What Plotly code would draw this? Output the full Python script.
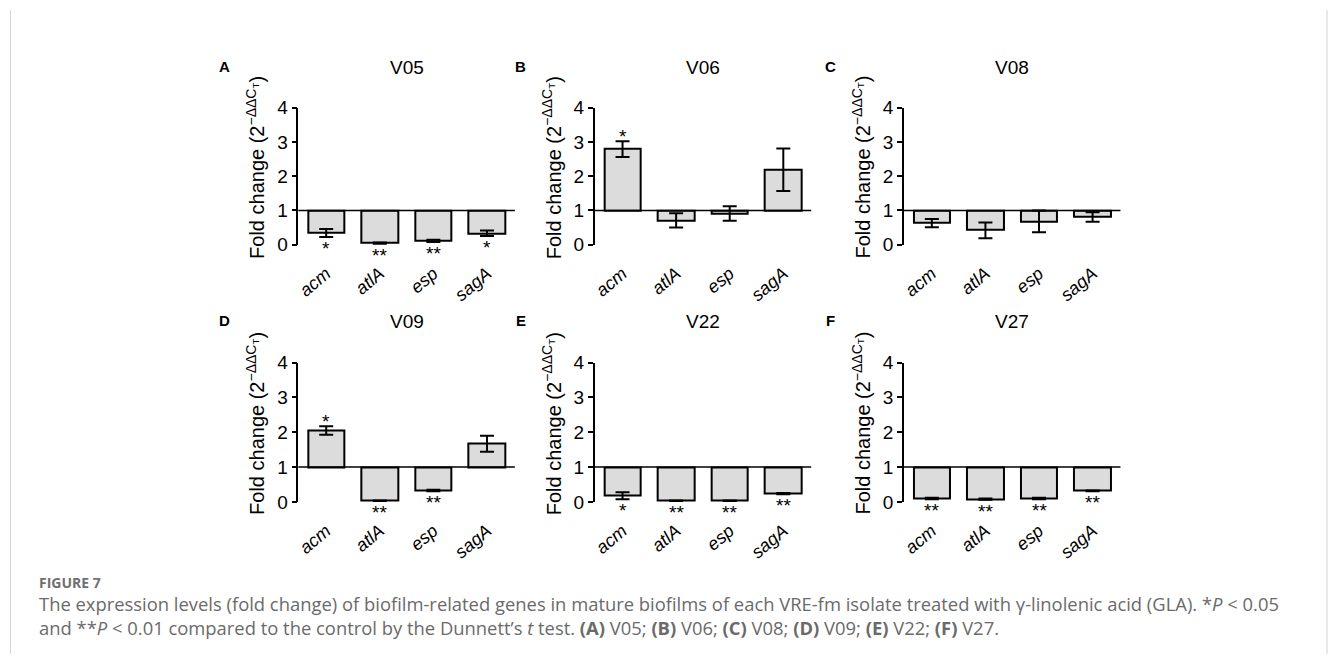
import plotly.graph_objects as go

W, H = 1330, 665

genes = ["acm", "atlA", "esp", "sagA"]
isolates = ["V05", "V06", "V08", "V09", "V22", "V27"]
panel_letters = ["A", "B", "C", "D", "E", "F"]

fold_V05 = [0.34, 0.04, 0.11, 0.33]
err_V05 = [0.12, 0.02, 0.03, 0.08]
sig_V05 = ["*", "**", "**", "*"]

fold_V06 = [2.79, 0.71, 0.91, 2.19]
err_V06 = [0.23, 0.21, 0.21, 0.62]
sig_V06 = ["*", "", "", ""]

fold_V08 = [0.63, 0.42, 0.68, 0.81]
err_V08 = [0.12, 0.23, 0.32, 0.14]
sig_V08 = ["", "", "", ""]

fold_V09 = [2.05, 0.03, 0.33, 1.67]
err_V09 = [0.12, 0.01, 0.02, 0.23]
sig_V09 = ["*", "**", "**", ""]

fold_V22 = [0.18, 0.03, 0.03, 0.24]
err_V22 = [0.10, 0.01, 0.01, 0.02]
sig_V22 = ["*", "**", "**", "**"]

fold_V27 = [0.10, 0.08, 0.10, 0.32]
err_V27 = [0.02, 0.02, 0.02, 0.01]
sig_V27 = ["**", "**", "**", "**"]

folds = [fold_V05, fold_V06, fold_V08, fold_V09, fold_V22, fold_V27]
errs = [err_V05, err_V06, err_V08, err_V09, err_V22, err_V27]
sigs = [sig_V05, sig_V06, sig_V08, sig_V09, sig_V22, sig_V27]

y_ticks = [0, 1, 2, 3, 4]
baseline = 1

caption_head = "FIGURE 7"
caption_l1 = ("The expression levels (fold change) of biofilm-related genes in mature biofilms of each "
              "VRE-fm isolate treated with γ-linolenic acid (GLA). *<i>P</i> &lt; 0.05")
caption_l2 = ("and **<i>P</i> &lt; 0.01 compared to the control by the Dunnett’s <i>t</i> test. "
              "<b>(A)</b> V05; <b>(B)</b> V06; <b>(C)</b> V08; <b>(D)</b> V09; <b>(E)</b> V22; <b>(F)</b> V27.")

# ---- layout geometry (page pixels) ----
col_left = [296, 593, 903]
col_w = 217
row_y0 = [242.3, 508]   # pixel of value 0
row_y4 = [101, 364]     # pixel of value 4


def px(x):
    return x / W


def py(y):
    return 1 - y / H


fig = go.Figure()
annotations = []
shapes = []
FONT = "Liberation Sans, Arial, sans-serif"

for i in range(6):
    r, c = divmod(i, 3)
    n = "" if i == 0 else str(i + 1)
    xa, ya = "x" + n, "y" + n
    vals = folds[i]
    er = errs[i]
    fig.add_trace(go.Bar(
        x=list(range(len(genes))), y=[v - baseline for v in vals], base=baseline,
        width=0.68, xaxis=xa, yaxis=ya,
        marker=dict(color="#dcdcdc", line=dict(color="black", width=2)),
        error_y=dict(type="data", array=er, color="black", thickness=2, width=7),
        showlegend=False, hoverinfo="skip",
    ))
    dom_x = [px(col_left[c]), px(col_left[c] + col_w)]
    dom_y = [py(row_y0[r]), py(row_y4[r])]
    fig.layout["xaxis" + n] = dict(
        domain=dom_x, anchor=ya, range=[-0.52, 3.52],
        tickvals=list(range(len(genes))), ticktext=genes, tickangle=-40,
        tickfont=dict(family=FONT, size=18, color="black", style="italic"),
        showline=False, showgrid=False, zeroline=False, ticks="",
        ticklabelstandoff=14,
    )
    fig.layout["yaxis" + n] = dict(
        domain=dom_y, anchor=xa, range=[0, 4], tickvals=y_ticks,
        showline=True, linecolor="black", linewidth=1.5,
        ticks="outside", ticklen=5, tickwidth=1.5, tickcolor="black",
        tickfont=dict(family=FONT, size=19, color="black"),
        showgrid=False, zeroline=False,
    )
    shapes.append(dict(type="line", xref=xa + " domain", yref=ya, x0=0, x1=1,
                       y0=baseline, y1=baseline, line=dict(color="black", width=1.5)))
    for j, s in enumerate(sigs[i]):
        if not s:
            continue
        if vals[j] >= baseline:
            annotations.append(dict(x=j, y=vals[j] + er[j], xref=xa, yref=ya, text=s,
                                    showarrow=False, yanchor="bottom", yshift=-8,
                                    font=dict(family=FONT, size=19, color="black")))
        else:
            annotations.append(dict(x=j, y=vals[j] - er[j], xref=xa, yref=ya, text=s,
                                    showarrow=False, yanchor="top", yshift=1,
                                    font=dict(family=FONT, size=19, color="black")))
    annotations.append(dict(x=px(col_left[c] + col_w / 2), y=py(row_y4[r] - 42), xref="paper", yref="paper",
                            text=isolates[i], showarrow=False, xanchor="center", yanchor="middle",
                            font=dict(family=FONT, size=19, color="black")))
    annotations.append(dict(x=px(col_left[c] - 74), y=py(row_y4[r] - 43), xref="paper", yref="paper",
                            text="<b>" + panel_letters[i] + "</b>", showarrow=False,
                            xanchor="center", yanchor="middle",
                            font=dict(family=FONT, size=15, color="black")))
    annotations.append(dict(x=px(col_left[c] - 43), y=py((row_y0[r] + row_y4[r]) / 2 - 9),
                            xref="paper", yref="paper",
                            text="Fold change (2<sup>−ΔΔC<sub>T</sub></sup>)", textangle=-90,
                            showarrow=False, xanchor="center", yanchor="middle",
                            font=dict(family=FONT, size=20, color="black")))

CAP = "Open Sans, Lato, sans-serif"
annotations.append(dict(x=px(34), y=py(591), xref="paper", yref="paper", text=caption_head,
                        showarrow=False, xanchor="left", yanchor="middle",
                        font=dict(family=CAP, size=14, color="#6f6f6f", weight="bold")))
annotations.append(dict(x=px(34), y=py(625.5), xref="paper", yref="paper",
                        text=caption_l1 + "<br>" + caption_l2, align="left",
                        showarrow=False, xanchor="left", yanchor="middle",
                        font=dict(family=CAP, size=18.4, color="#6a6a6a")))

for xb in [7.5, 1327]:
    shapes.append(dict(type="line", xref="paper", yref="paper", x0=px(xb), x1=px(xb), y0=0, y1=1,
                       line=dict(color="#d4d4d4", width=1)))

fig.update_layout(
    width=W, height=H, margin=dict(l=0, r=0, t=0, b=0),
    paper_bgcolor="white", plot_bgcolor="white",
    annotations=annotations, shapes=shapes, bargap=0,
)

fig.write_html(
    "out.html",
    config={"displayModeBar": False},
    post_script=("document.body.style.margin='0';document.body.style.overflow='hidden';"
                 "document.documentElement.style.overflow='hidden';"),
)
